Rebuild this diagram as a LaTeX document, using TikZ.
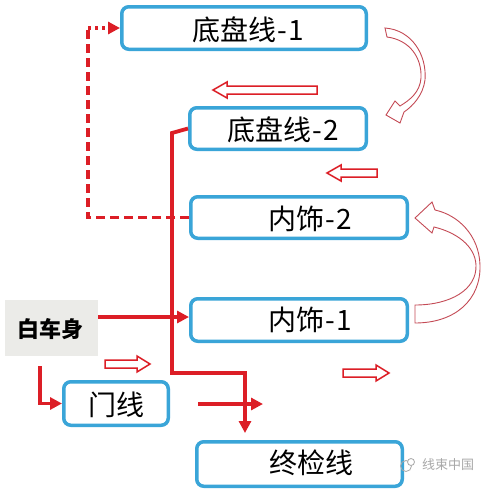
\documentclass[tikz,border=0pt]{standalone}
\usepackage{fontspec}
\newfontfamily\cjk{Noto Sans CJK SC}
\usetikzlibrary{arrows.meta}
\definecolor{boxblue}{HTML}{3AA5D8}
\definecolor{lred}{HTML}{DC1E26}
\definecolor{cred}{HTML}{C44A55}
\definecolor{bodygray}{HTML}{EBEBE8}
\definecolor{wmgray}{HTML}{A8A8A8}
\newcommand\blkR[3]{\draw[blk] (#1,#3-4) -- (#2-13,#3-4) -- (#2-13,#3-8) -- (#2,#3) -- (#2-13,#3+8) -- (#2-13,#3+4) -- (#1,#3+4) -- cycle;}
\newcommand\blkL[3]{\draw[blk] (#2,#3-4) -- (#1+14,#3-4) -- (#1+14,#3-8) -- (#1,#3) -- (#1+14,#3+8) -- (#1+14,#3+4) -- (#2,#3+4) -- cycle;}
\begin{document}
\begin{tikzpicture}[x=1pt,y=-1pt,
  box/.style={draw=boxblue,line width=3.5pt,rounded corners=7pt,fill=white,inner sep=0pt},
  lbl/.style={font=\cjk\fontsize{28}{32}\selectfont,inner sep=0pt},
  rl/.style={draw=lred,line width=3.8pt},
  tip/.style={-{Triangle[length=12pt,width=12pt]}},
  blk/.style={draw=lred,line width=1.5pt,fill=white,line join=miter},
  curv/.style={draw=cred,line width=0.9pt,fill=white}]
\useasboundingbox (0,0) rectangle (488,490);
\fill[white] (0,0) rectangle (488,490);

% boxes
\node[box,minimum width=244.5pt,minimum height=42.5pt] (b1) at (244,28) {};
\node[box,minimum width=176.5pt,minimum height=41.5pt] (b2) at (278,128.5) {};
\node[box,minimum width=216.5pt,minimum height=41.5pt] (n2) at (299,217.5) {};
\node[box,minimum width=216.5pt,minimum height=42.5pt] (n1) at (299,320) {};
\node[box,minimum width=104.5pt,minimum height=43.5pt] (door) at (116,403.5) {};
\node[box,minimum width=205.5pt,minimum height=44.5pt] (fin) at (299.5,464) {};
\node[fill=bodygray,minimum width=93pt,minimum height=56pt,inner sep=0pt] (body) at (51.5,328) {};

% labels
\node[lbl] (b1t) at (248,30) {底盘线\kern1pt-\kern1pt1};
\node[lbl] (b2t) at (283,130) {底盘线\kern1pt-\kern1pt2};
\node[lbl] (n2t) at (310,219) {内饰\kern1pt-\kern1pt2};
\node[lbl] (n1t) at (310,320) {内饰\kern1pt-\kern1pt1};
\node[lbl] (doort) at (116,405) {门线};
\node[lbl] (fint) at (311,463) {终检线};
\node[font=\cjk\bfseries\fontsize{22}{26}\selectfont,inner sep=0pt] (bodyt) at (50,329) {白车身};

% coordinates
\coordinate (s0) at (172,133);
\coordinate (s1) at (245,373);
\coordinate (s2) at (245,433);
\coordinate (c1) at (88,28);
\coordinate (d0) at (40,366);
\coordinate (e0) at (198,404);
\coordinate (e1) at (263,404);

% red connectors
\draw[rl,dash pattern=on 9pt off 5pt] (n2.west) -| (c1);
\draw[rl,dash pattern=on 3pt off 4pt,tip] (c1) -- (b1.west);
\draw[rl,tip] (b2.west) -- (s0) |- (s1) -- (s2);
\draw[rl,tip] (n1.west -| body.east) ++(0,-3) -- ([yshift=3pt]n1.west);
\draw[rl,tip] (d0) |- (door.west);
\draw[rl,tip] (e0) -- (e1);

% block arrows
\blkL{213}{317}{90}
\blkL{327}{377}{173}
\blkR{105}{150}{364}
\blkR{343}{389}{373}

% curved arrows
\draw[curv] (385,28) .. controls (412,30) and (427,55) .. (425,80)
  .. controls (423,95) and (413,106) .. (404,112)
  -- (400,123) -- (386,115) -- (395,101) -- (400,106)
  .. controls (410,100) and (420,92) .. (421,78)
  .. controls (422,58) and (410,40) .. (387,37) -- cycle;
\draw[curv] (415,323) .. controls (455,323) and (481,300) .. (480,265)
  .. controls (479,235) and (458,215) .. (435,210)
  -- (432,202) -- (415,218) -- (432,233) -- (434,227)
  .. controls (455,232) and (475,245) .. (476,265)
  .. controls (477,290) and (450,305) .. (415,305) -- cycle;

% watermark
\draw[wmgray,line width=0.8pt] (406,466) circle (5.5pt);
\draw[wmgray,line width=0.8pt,fill=white] (411,462) circle (3.5pt);
\node[font=\cjk\fontsize{13}{15}\selectfont,text=wmgray,inner sep=0pt] (wm) at (448,465) {线束中国};
\end{tikzpicture}
\end{document}
